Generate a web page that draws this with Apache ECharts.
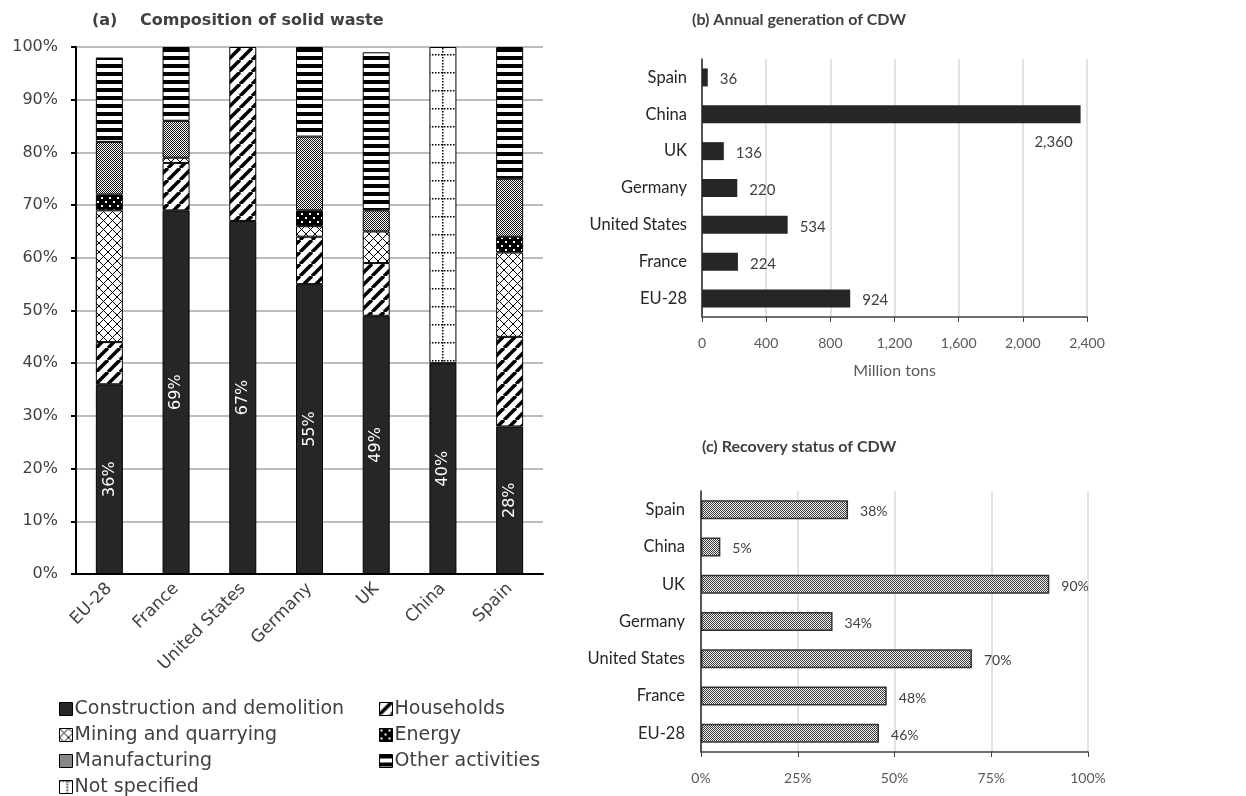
<!DOCTYPE html>
<html>
<head>
<meta charset="utf-8">
<title>Solid waste and CDW</title>
<script src="https://cdn.jsdelivr.net/npm/echarts@6/dist/echarts.min.js"></script>
<style>
  html, body { margin: 0; padding: 0; background: #ffffff; }
  #chart { width: 1246px; height: 796px; }
</style>
</head>
<body>
<div id="chart"></div>
<script>
// ---- Data -------------------------------------------------------------
// (a) composition of solid waste, share of total (%)
const countries = ['EU-28', 'France', 'United States', 'Germany', 'UK', 'China', 'Spain'];
const constructionDemolition = [36, 69, 67, 55, 49, 40, 28];
const households            = [8, 9, 33, 9, 10, 0, 17];
const miningQuarrying       = [25, 1, 0, 2, 6, 0, 16];
const energy                = [3, 0, 0, 3, 0, 0, 3];
const manufacturing         = [10, 7, 0, 14, 4, 0, 11];
const otherActivities       = [16, 14, 0, 17, 30, 0, 25];
const notSpecified          = [0, 0, 0, 0, 0, 60, 0];
const shareTicks = [0, 10, 20, 30, 40, 50, 60, 70, 80, 90, 100];

// (b) annual generation of CDW, million tons
const cdwGeneration = [924, 224, 534, 220, 136, 2360, 36];
const generationTicks = [0, 400, 800, 1200, 1600, 2000, 2400];

// (c) recovery rate of CDW, %
const cdwRecovery = [46, 48, 70, 34, 90, 5, 38];
const recoveryTicks = [0, 25, 50, 75, 100];

// ---- Fill patterns ----------------------------------------------------
function tile(w, h, draw) {
  const c = document.createElement('canvas');
  c.width = w; c.height = h;
  const ctx = c.getContext('2d');
  draw(ctx, w, h);
  return { image: c, repeat: 'repeat' };
}
const fillSolid = '#262626';
const fillDiagonal = tile(12, 12, (ctx, w, h) => {
  ctx.fillStyle = '#fff'; ctx.fillRect(0, 0, w, h);
  ctx.strokeStyle = '#000'; ctx.lineWidth = 3.6;
  for (let k = -1; k <= 1; k++) {
    ctx.beginPath(); ctx.moveTo(k * w, h); ctx.lineTo(k * w + w, 0); ctx.stroke();
  }
});
const fillCross = tile(9, 9, (ctx, w, h) => {
  ctx.fillStyle = '#fff'; ctx.fillRect(0, 0, w, h);
  ctx.strokeStyle = '#000'; ctx.lineWidth = 1;
  ctx.beginPath();
  ctx.moveTo(0, 0); ctx.lineTo(w, h);
  ctx.moveTo(w, 0); ctx.lineTo(0, h);
  ctx.stroke();
});
const fillDots = tile(8, 8, (ctx, w, h) => {
  ctx.fillStyle = '#000'; ctx.fillRect(0, 0, w, h);
  ctx.fillStyle = '#fff';
  ctx.fillRect(1, 1, 2, 2); ctx.fillRect(5, 5, 2, 2);
});
const fillChecker = tile(2, 2, (ctx) => {
  ctx.fillStyle = '#fff'; ctx.fillRect(0, 0, 2, 2);
  ctx.fillStyle = '#111'; ctx.fillRect(0, 0, 1, 1); ctx.fillRect(1, 1, 1, 1);
});
const fillStripes = tile(4, 8, (ctx, w) => {
  ctx.fillStyle = '#fff'; ctx.fillRect(0, 0, w, 8);
  ctx.fillStyle = '#000'; ctx.fillRect(0, 0, w, 4);
});
const fillDottedGrid = tile(15, 18, (ctx, w, h) => {
  ctx.fillStyle = '#fff'; ctx.fillRect(0, 0, w, h);
  ctx.fillStyle = '#000';
  for (let y = 0; y < h; y += 3) ctx.fillRect(7, y, 1.5, 1.5);
  for (let x = 0; x < w; x += 3) ctx.fillRect(x, 0, 1.5, 1.5);
});
const fillRecovery = tile(2, 2, (ctx) => {
  ctx.fillStyle = '#f2f2f2'; ctx.fillRect(0, 0, 2, 2);
  ctx.fillStyle = '#3a3a3a'; ctx.fillRect(0, 0, 1, 1); ctx.fillRect(1, 1, 1, 1);
});

// ---- Fonts & colours --------------------------------------------------
const fontA = '"DejaVu Sans", sans-serif';
const fontB = 'Lato, "Liberation Sans", sans-serif';
const textDark = '#404040';
const textGray = '#595959';

// ---- Panel (a) series ---------------------------------------------------
const compositionParts = [
  { name: 'Construction and demolition', values: constructionDemolition, fill: fillSolid, labelled: true },
  { name: 'Households', values: households, fill: fillDiagonal },
  { name: 'Mining and quarrying', values: miningQuarrying, fill: fillCross },
  { name: 'Energy', values: energy, fill: fillDots },
  { name: 'Manufacturing', values: manufacturing, fill: fillChecker },
  { name: 'Other activities', values: otherActivities, fill: fillStripes },
  { name: 'Not specified', values: notSpecified, fill: fillDottedGrid }
];

const compositionSeries = compositionParts.map(p => ({
  name: p.name,
  type: 'bar',
  stack: 'composition',
  xAxisIndex: 0,
  yAxisIndex: 0,
  barWidth: 27,
  data: p.values.map(v => (v === 0 ? '-' : v)),
  itemStyle: { color: p.fill, borderColor: '#000', borderWidth: 1 },
  emphasis: { disabled: true },
  label: p.labelled ? {
    show: true,
    position: 'inside',
    rotate: 90,
    color: '#ffffff',
    fontFamily: fontA,
    fontSize: 16,
    formatter: d => d.value + '%'
  } : { show: false }
}));

const legendText = { fontFamily: fontA, fontSize: 19, color: textDark, lineHeight: 26, padding: [0, 0, 0, -3] };
const legendBase = {
  orient: 'vertical', top: 696, height: 110, padding: 0,
  itemWidth: 13, itemHeight: 13, itemGap: 0, icon: 'rect', selectedMode: false,
  itemStyle: { borderColor: '#000', borderWidth: 1 },
  textStyle: legendText
};

// ---- Chart option -------------------------------------------------------
const option = {
  backgroundColor: '#ffffff',
  animation: false,
  textStyle: { fontFamily: fontA },
  graphic: [
    { type: 'text', left: 92, top: 13, style: { text: '(a)', font: 'bold 16px ' + fontA, fill: textDark } },
    { type: 'text', left: 140, top: 13, style: { text: 'Composition of solid waste', font: 'bold 16px ' + fontA, fill: textDark } },
    { type: 'text', left: 692, top: 12, style: { text: '(b) Annual generation of CDW', font: 'bold 16px ' + fontB, fill: textDark } },
    { type: 'text', left: 702, top: 439, style: { text: '(c) Recovery status of CDW', font: 'bold 16px ' + fontB, fill: textDark } }
  ],
  legend: [
    Object.assign({}, legendBase, {
      left: 59,
      data: ['Construction and demolition', 'Mining and quarrying', 'Manufacturing', 'Not specified']
    }),
    Object.assign({}, legendBase, {
      left: 379,
      data: ['Households', 'Energy', 'Other activities']
    })
  ],
  grid: [
    { left: 76, top: 47, width: 467, height: 527 },
    { left: 702, top: 59, width: 385, height: 258 },
    { left: 701, top: 491, width: 387, height: 261 }
  ],
  xAxis: [
    {
      gridIndex: 0, type: 'category', data: countries,
      axisLine: { show: true, lineStyle: { color: '#000', width: 2 } },
      axisTick: { show: false },
      axisLabel: { rotate: 45, margin: 12, fontFamily: fontA, fontSize: 17, color: textDark, interval: 0 }
    },
    {
      gridIndex: 1, type: 'value',
      min: generationTicks[0], max: generationTicks[generationTicks.length - 1],
      interval: generationTicks[1] - generationTicks[0],
      axisLine: { show: true, lineStyle: { color: '#404040', width: 1.5 } },
      axisTick: { show: true, length: 5, lineStyle: { color: '#404040' } },
      axisLabel: { margin: 19, fontFamily: fontB, fontSize: 14, color: textGray,
        formatter: v => v.toLocaleString('en-US') },
      splitLine: { show: true, lineStyle: { color: '#d9d9d9', width: 1.5 } },
      name: 'Million tons', nameLocation: 'middle', nameGap: 46,
      nameTextStyle: { fontFamily: fontB, fontSize: 16, color: textGray }
    },
    {
      gridIndex: 2, type: 'value',
      min: recoveryTicks[0], max: recoveryTicks[recoveryTicks.length - 1],
      interval: recoveryTicks[1] - recoveryTicks[0],
      axisLine: { show: true, lineStyle: { color: '#404040', width: 1.5 } },
      axisTick: { show: true, length: 5, lineStyle: { color: '#404040' } },
      axisLabel: { margin: 19, fontFamily: fontB, fontSize: 14, color: textGray, formatter: v => v + '%' },
      splitLine: { show: true, lineStyle: { color: '#d9d9d9', width: 1.5 } }
    }
  ],
  yAxis: [
    {
      gridIndex: 0, type: 'value',
      min: shareTicks[0], max: shareTicks[shareTicks.length - 1],
      interval: shareTicks[1] - shareTicks[0],
      axisLine: { show: true, lineStyle: { color: '#000', width: 2 } },
      axisTick: { show: true, inside: false, length: 5, lineStyle: { color: '#000', width: 2 } },
      axisLabel: { margin: 18, fontFamily: fontA, fontSize: 16, color: textDark, formatter: v => v + '%' },
      splitLine: { show: true, lineStyle: { color: '#a6a6a6', width: 1.5 } }
    },
    {
      gridIndex: 1, type: 'category', data: countries,
      axisLine: { show: true, lineStyle: { color: '#262626', width: 1.5 } },
      axisTick: { show: false },
      axisLabel: { margin: 15, fontFamily: fontB, fontSize: 16.5, color: '#262626' }
    },
    {
      gridIndex: 2, type: 'category', data: countries,
      axisLine: { show: true, lineStyle: { color: '#262626', width: 1.5 } },
      axisTick: { show: false },
      axisLabel: { margin: 16, fontFamily: fontB, fontSize: 16.5, color: '#262626' }
    }
  ],
  series: [
    ...compositionSeries,
    {
      name: 'Annual generation of CDW',
      type: 'bar', xAxisIndex: 1, yAxisIndex: 1,
      barWidth: 18,
      emphasis: { disabled: true },
      itemStyle: { color: '#262626' },
      data: cdwGeneration.map(v => {
        const item = { value: v };
        // the longest bar carries its label underneath its end
        if (v === Math.max(...cdwGeneration)) {
          item.label = { position: ['100%', '100%'], align: 'right', verticalAlign: 'top', offset: [-8, 11] };
        }
        return item;
      }),
      label: {
        show: true, position: 'right', distance: 12, offset: [0, 2],
        fontFamily: fontB, fontSize: 15, color: textDark,
        formatter: d => d.value.toLocaleString('en-US')
      }
    },
    {
      name: 'Recovery status of CDW',
      type: 'bar', xAxisIndex: 2, yAxisIndex: 2,
      barWidth: 19,
      emphasis: { disabled: true },
      itemStyle: { color: fillRecovery, borderColor: '#333', borderWidth: 1.5 },
      data: cdwRecovery,
      label: {
        show: true, position: 'right', distance: 12, offset: [0, 2],
        fontFamily: fontB, fontSize: 14, color: textDark,
        formatter: d => d.value + '%'
      }
    }
  ]
};

const chart = echarts.init(document.getElementById('chart'), null, { renderer: 'canvas' });
chart.setOption(option);
</script>
</body>
</html>
